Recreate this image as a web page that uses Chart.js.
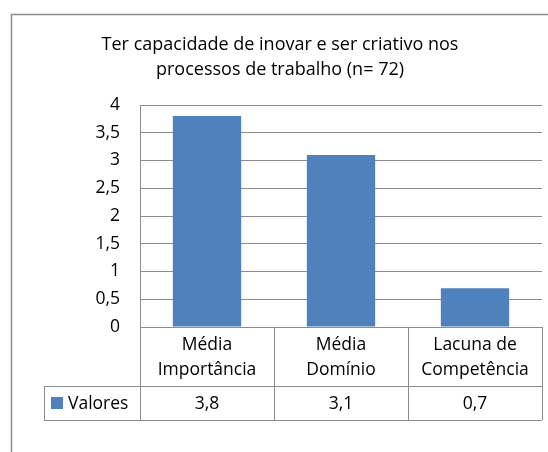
<!DOCTYPE html>
<html>
<head>
<meta charset="utf-8">
<script src="https://cdn.jsdelivr.net/npm/chart.js@4"></script>
<style>
  body { margin: 0; background: #fff; }
  canvas { display: block; }
</style>
</head>
<body>
<canvas id="grafico" width="548" height="452"></canvas>
<script>
const titleLines = ['Ter capacidade de inovar e ser criativo nos', 'processos de trabalho (n= 72)'];
const categories = [['Média', 'Importância'], ['Média', 'Domínio'], ['Lacuna de', 'Competência']];
const seriesName = 'Valores';
const values = [3.8, 3.1, 0.7];
const yTickLabels = ['0', '0,5', '1', '1,5', '2', '2,5', '3', '3,5', '4'];

const barColor = '#4f81bd';
const lineColor = '#8c8c8c';
const fontFamily = '"Open Sans", sans-serif';

const fmt = v => String(v).replace('.', ',');

// moldura + tabela de dados por baixo do gráfico (estilo Excel)
const tabela = {
  id: 'tabela',
  beforeDraw(chart) {
    const ctx = chart.ctx;
    ctx.save();
    ctx.fillStyle = '#fff';
    ctx.fillRect(0, 0, chart.width, chart.height);
    ctx.strokeStyle = lineColor;
    ctx.lineWidth = 1.5;
    ctx.strokeRect(11.5, 14.5, 700, 600);
    ctx.restore();
  },
  afterDraw(chart) {
    const ctx = chart.ctx;
    const a = chart.chartArea;
    const x = chart.scales.x;
    const top = a.bottom, mid = top + 59, bot = top + 93;
    const left = 44;
    const w = (a.right - a.left) / categories.length;
    ctx.save();
    ctx.strokeStyle = lineColor;
    ctx.lineWidth = 1;
    ctx.beginPath();
    for (let i = 0; i <= categories.length; i++) {
      const px = Math.round(a.left + i * w) + 0.5;
      ctx.moveTo(px, top);
      ctx.lineTo(px, bot);
    }
    ctx.moveTo(a.left, top + 0.5); ctx.lineTo(a.right, top + 0.5);
    ctx.moveTo(left, mid + 0.5); ctx.lineTo(a.right, mid + 0.5);
    ctx.moveTo(left, bot + 0.5); ctx.lineTo(a.right, bot + 0.5);
    ctx.moveTo(left + 0.5, mid); ctx.lineTo(left + 0.5, bot);
    ctx.stroke();

    ctx.fillStyle = '#000';
    ctx.font = '17.5px ' + fontFamily;
    ctx.textAlign = 'center';
    ctx.textBaseline = 'alphabetic';
    categories.forEach((lines, i) => {
      const cx = x.getPixelForValue(i);
      lines.forEach((t, j) => ctx.fillText(t, cx, top + 23 + j * 24.5));
      ctx.fillText(fmt(values[i]), cx, bot - 11);
    });
    ctx.fillStyle = barColor;
    ctx.fillRect(51, 397, 12, 12);
    ctx.fillStyle = '#000';
    ctx.textAlign = 'left';
    ctx.fillText(seriesName, 68, bot - 11);
    ctx.restore();
  }
};

new Chart(document.getElementById('grafico'), {
  type: 'bar',
  data: {
    labels: categories,
    datasets: [{
      label: seriesName,
      data: values,
      backgroundColor: barColor,
      categoryPercentage: 1,
      barPercentage: 0.51
    }]
  },
  options: {
    responsive: false,
    animation: false,
    layout: { padding: { top: 0, right: 6, bottom: 125, left: 18 } },
    plugins: {
      legend: { display: false },
      tooltip: { enabled: false },
      title: {
        display: true,
        text: titleLines,
        color: '#000',
        font: { family: fontFamily, size: 18, weight: 'normal', lineHeight: 1.35 },
        padding: { top: 33, bottom: 23.4 }
      }
    },
    scales: {
      x: { display: false },
      y: {
        min: 0,
        max: 4,
        afterFit(scale) { scale.width = 122; },
        ticks: {
          stepSize: 0.5,
          padding: 20,
          color: '#000',
          font: { family: fontFamily, size: 17.5 },
          callback: (v, i) => yTickLabels[i]
        },
        grid: { color: lineColor, drawTicks: false },
        border: { display: true, color: lineColor }
      }
    }
  },
  plugins: [tabela]
});
</script>
</body>
</html>
